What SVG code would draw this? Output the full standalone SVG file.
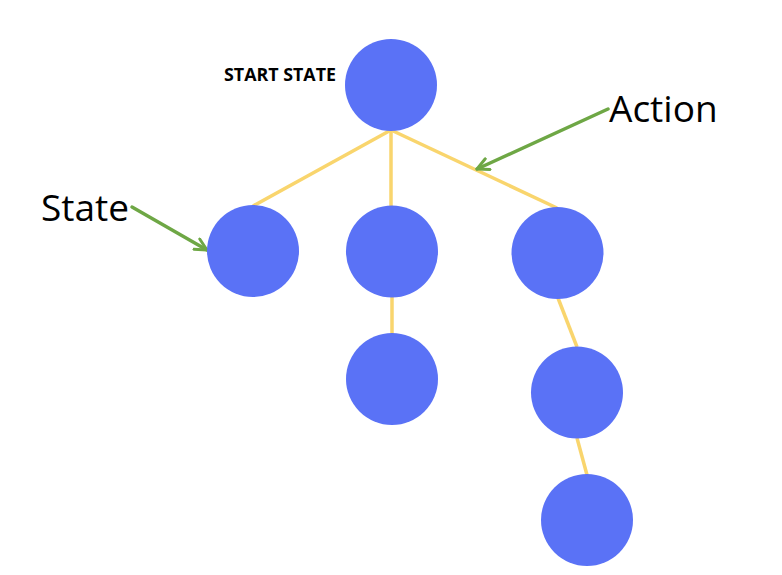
<svg xmlns="http://www.w3.org/2000/svg" width="782" height="575" viewBox="0 0 782 575">
<style>
.node{fill:#5a72f6}
.edge{stroke:#f9d56d;stroke-width:3.5;fill:none}
.ptr{stroke:#6ea745;stroke-width:3.5;fill:none;stroke-linecap:round}
.lbl{font-family:"Open Sans","Noto Sans",sans-serif;font-size:37px;fill:#000}
.title{font-family:"Open Sans","Noto Sans",sans-serif;font-size:17px;font-weight:700;fill:#000}
</style>
<defs>
<marker id="head" viewBox="0 0 10 10" refX="9" refY="5" markerWidth="4.2" markerHeight="4.2" orient="auto" markerUnits="strokeWidth">
<path d="M1,1 L9,5 L1,9" fill="none" stroke="#6ea745" stroke-width="2" stroke-linecap="round" stroke-linejoin="round"/>
</marker>
</defs>
<rect width="782" height="575" fill="#fff"/>
<g id="connectors">
<line class="edge" x1="391" y1="130" x2="253" y2="206"/>
<line class="edge" x1="391" y1="130" x2="391" y2="206"/>
<line class="edge" x1="391" y1="130" x2="557" y2="208"/>
<line class="edge" x1="392" y1="297" x2="392" y2="334"/>
<line class="edge" x1="558" y1="298" x2="577" y2="347"/>
<line class="edge" x1="577" y1="438" x2="587" y2="475"/>
<line class="ptr" x1="608" y1="109" x2="477" y2="169" marker-end="url(#head)"/>
<line class="ptr" x1="132" y1="207" x2="207" y2="250" marker-end="url(#head)"/>
</g>
<g id="start"><circle class="node" cx="391" cy="85" r="46"/></g>
<g id="n1"><circle class="node" cx="253" cy="251" r="46"/></g>
<g id="n2"><circle class="node" cx="392" cy="251.5" r="46"/></g>
<g id="n3"><circle class="node" cx="557.5" cy="253" r="46"/></g>
<g id="n4"><circle class="node" cx="392" cy="379" r="46"/></g>
<g id="n5"><circle class="node" cx="577" cy="392.5" r="46"/></g>
<g id="n6"><circle class="node" cx="587" cy="520" r="46"/></g>
<g id="labels">
<text class="title" x="224" y="81" textLength="112" lengthAdjust="spacingAndGlyphs">START STATE</text>
<text class="lbl" x="609" y="122">Action</text>
<text class="lbl" x="41" y="221">State</text>
</g>
</svg>
